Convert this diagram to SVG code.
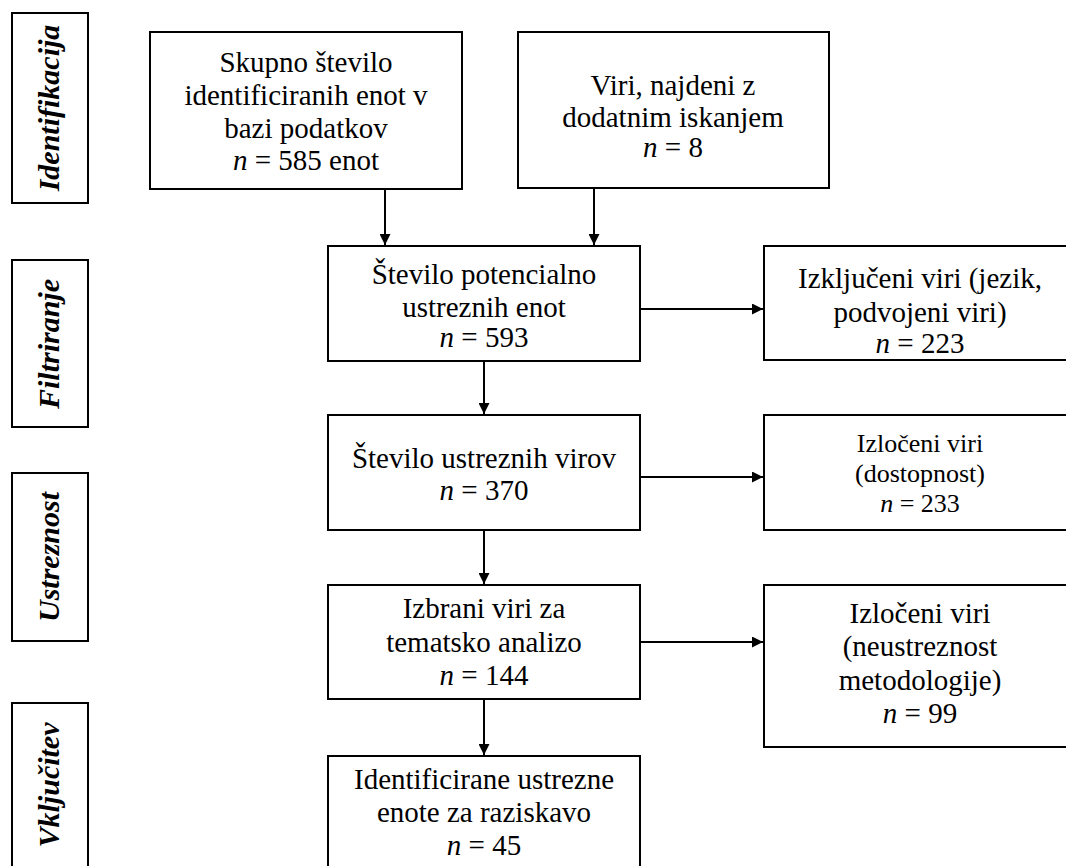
<svg xmlns="http://www.w3.org/2000/svg" width="1066" height="866" viewBox="0 0 1066 866">
<style>
.box{fill:#fff;stroke:#000;stroke-width:2}
text{font-family:'Liberation Serif','Times New Roman',serif;fill:#000;text-anchor:middle}
.t{font-size:29px}
.s{font-size:26px}
.lab{font-size:30px;font-weight:bold;font-style:italic}
.c{stroke:#000;stroke-width:2;fill:none;marker-end:url(#ah)}
</style>
<defs>
<marker id="ah" viewBox="0 0 10 10" refX="10" refY="5" markerWidth="5.5" markerHeight="5.5" markerUnits="strokeWidth" orient="auto">
<path d="M0,0 L10,5 L0,10 z" fill="#000"/>
</marker>
</defs>
<rect width="1066" height="866" fill="#fff"/>
<g id="lab-identifikacija"><rect class="box" x="12" y="13" width="76" height="190"/><text class="lab" transform="translate(59,108) rotate(-90)">Identifikacija</text></g>
<g id="lab-filtriranje"><rect class="box" x="12" y="260" width="76" height="167"/><text class="lab" transform="translate(59,344) rotate(-90)">Filtriranje</text></g>
<g id="lab-ustreznost"><rect class="box" x="12" y="473" width="76" height="168"/><text class="lab" transform="translate(59,557) rotate(-90)">Ustreznost</text></g>
<g id="lab-vkljucitev"><rect class="box" x="12" y="703" width="76" height="180"/><text class="lab" transform="translate(59,785) rotate(-90)">Vključitev</text></g>

<g id="n1"><rect class="box" x="150" y="32" width="312" height="157"/>
<text class="t" x="306" y="72">Skupno število</text>
<text class="t" x="306" y="105">identificiranih enot v</text>
<text class="t" x="306" y="138">bazi podatkov</text>
<text class="t" x="306" y="170"><tspan font-style="italic">n</tspan> = 585 enot</text></g>

<g id="n2"><rect class="box" x="518" y="32" width="311" height="156"/>
<text class="t" x="673" y="95">Viri, najdeni z</text>
<text class="t" x="673" y="127">dodatnim iskanjem</text>
<text class="t" x="673" y="157"><tspan font-style="italic">n</tspan> = 8</text></g>

<g id="n3"><rect class="box" x="328" y="246" width="312" height="115"/>
<text class="t" x="484" y="284">Število potencialno</text>
<text class="t" x="484" y="317">ustreznih enot</text>
<text class="t" x="484" y="347"><tspan font-style="italic">n</tspan> = 593</text></g>

<g id="x1"><rect class="box" x="764" y="246" width="312" height="114"/>
<text class="t" x="920" y="288">Izključeni viri (jezik,</text>
<text class="t" x="920" y="322">podvojeni viri)</text>
<text class="t" x="920" y="353"><tspan font-style="italic">n</tspan> = 223</text></g>

<g id="n4"><rect class="box" x="328" y="415" width="312" height="115"/>
<text class="t" x="484" y="468">Število ustreznih virov</text>
<text class="t" x="484" y="500"><tspan font-style="italic">n</tspan> = 370</text></g>

<g id="x2"><rect class="box" x="764" y="415" width="312" height="115"/>
<text class="s" x="920" y="452">Izločeni viri</text>
<text class="s" x="920" y="482">(dostopnost)</text>
<text class="s" x="920" y="512"><tspan font-style="italic">n</tspan> = 233</text></g>

<g id="n5"><rect class="box" x="328" y="585" width="312" height="114"/>
<text class="t" x="484" y="618">Izbrani viri za</text>
<text class="t" x="484" y="652">tematsko analizo</text>
<text class="t" x="484" y="685"><tspan font-style="italic">n</tspan> = 144</text></g>

<g id="x3"><rect class="box" x="764" y="585" width="312" height="162"/>
<text class="t" x="920" y="623">Izločeni viri</text>
<text class="t" x="920" y="656">(neustreznost</text>
<text class="t" x="920" y="690">metodologije)</text>
<text class="t" x="920" y="723"><tspan font-style="italic">n</tspan> = 99</text></g>

<g id="n6"><rect class="box" x="328" y="756" width="312" height="130"/>
<text class="t" x="484" y="789">Identificirane ustrezne</text>
<text class="t" x="484" y="822">enote za raziskavo</text>
<text class="t" x="484" y="855"><tspan font-style="italic">n</tspan> = 45</text></g>

<g id="connectors">
<path class="c" d="M385,189 V245"/>
<path class="c" d="M594,188 V245"/>
<path class="c" d="M640,309 H763"/>
<path class="c" d="M484,361 V414"/>
<path class="c" d="M640,477 H763"/>
<path class="c" d="M484,530 V584"/>
<path class="c" d="M640,642 H763"/>
<path class="c" d="M484,699 V755"/>
</g>
</svg>
